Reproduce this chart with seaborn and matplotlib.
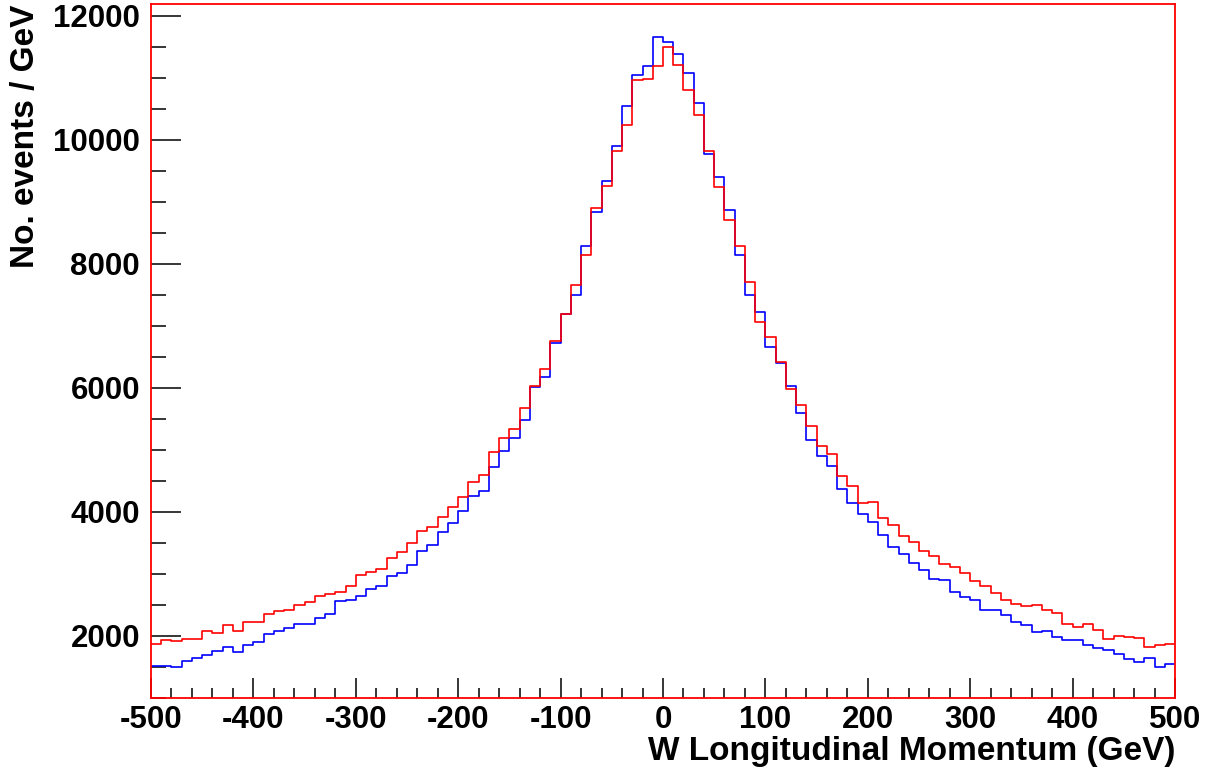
import numpy as np
import pandas as pd
import matplotlib
matplotlib.use("Agg")
import matplotlib.pyplot as plt
import seaborn as sns
from matplotlib.ticker import MultipleLocator

# 100 bins of 10 GeV from -500 to 500
bin_lo, bin_hi, bin_w = -500, 500, 10

# blue histogram (events / GeV)
blue_counts = [
    1516, 1516, 1495, 1602, 1645, 1688, 1763, 1817, 1742, 1849,
    1903, 2032, 2080, 2124, 2188, 2199, 2296, 2350, 2559, 2583,
    2648, 2758, 2812, 2968, 3021, 3151, 3376, 3473, 3677, 3828,
    4021, 4253, 4339, 4721, 4984, 5199, 5484, 6022, 6172, 6720,
    7183, 7500, 8280, 8840, 9339, 9898, 10538, 11038, 11194, 11656,
    11581, 11382, 11076, 10586, 9763, 9398, 8870, 8140, 7500, 7226,
    6656, 6398, 6027, 5600, 5156, 4903, 4740, 4371, 4151, 3973,
    3839, 3634, 3441, 3317, 3183, 3065, 2925, 2898, 2710, 2634,
    2581, 2422, 2425, 2339, 2226, 2177, 2070, 2086, 1989, 1935,
    1941, 1860, 1801, 1774, 1704, 1634, 1581, 1650, 1495, 1548,
]

# red histogram (events / GeV)
red_counts = [
    1876, 1940, 1914, 1957, 1957, 2075, 2054, 2177, 2075, 2231,
    2220, 2360, 2408, 2425, 2500, 2554, 2650, 2677, 2704, 2800,
    2987, 3027, 3081, 3263, 3349, 3495, 3699, 3758, 3925, 4075,
    4247, 4489, 4602, 4968, 5196, 5333, 5677, 6032, 6301, 6753,
    7183, 7656, 8145, 8892, 9258, 9823, 10237, 10968, 10979, 11183,
    11489, 11210, 10795, 10403, 9811, 9240, 8700, 8280, 7699, 7070,
    6817, 6414, 5979, 5720, 5392, 5070, 4930, 4581, 4424, 4140,
    4167, 3898, 3796, 3618, 3511, 3371, 3296, 3161, 3118, 3020,
    2887, 2812, 2688, 2581, 2511, 2478, 2500, 2425, 2376, 2194,
    2151, 2194, 2091, 1957, 2000, 1984, 1968, 1828, 1855, 1871,
]

x_ticks = list(range(-500, 501, 100))
y_ticks = [2000, 4000, 6000, 8000, 10000, 12000]

centers = np.arange(bin_lo + bin_w / 2, bin_hi, bin_w)
df = pd.DataFrame({"pz": centers, "blue": blue_counts, "red": red_counts})

sns.set_style("white")
plt.rcParams["font.family"] = ["Liberation Sans", "DejaVu Sans"]
plt.rcParams["font.weight"] = "bold"
plt.rcParams["axes.unicode_minus"] = False
plt.rcParams["text.color"] = "black"
plt.rcParams["axes.labelcolor"] = "black"

fig = plt.figure(figsize=(12.09, 7.76), dpi=100)
ax = fig.add_axes([151 / 1209, 1 - 698 / 776, 1024 / 1209, 693.7 / 776])

# ROOT-like step outlines
sns.histplot(data=df, x="pz", weights="blue", binwidth=bin_w, binrange=(bin_lo, bin_hi),
             element="step", fill=False, color="#0000ff", linewidth=1.2, ax=ax)
sns.histplot(data=df, x="pz", weights="red", binwidth=bin_w, binrange=(bin_lo, bin_hi),
             element="step", fill=False, color="#ff0000", linewidth=1.2, ax=ax)

ax.set_xlim(-500, 500)
ax.set_ylim(1000, 12184)

ax.set_xticks(x_ticks)
ax.set_yticks(y_ticks)
ax.xaxis.set_minor_locator(MultipleLocator(20))
ax.yaxis.set_minor_locator(MultipleLocator(500))

ax.tick_params(axis="both", which="both", direction="in", colors="black",
               left=True, bottom=True, top=False, right=False,
               labelsize=22.5, width=1.1)
ax.tick_params(axis="y", which="major", length=21.6, pad=8)
ax.tick_params(axis="y", which="minor", length=10.8)
ax.tick_params(axis="x", which="major", length=14.4, pad=5)
ax.tick_params(axis="x", which="minor", length=7.2)
for lab in ax.get_xticklabels() + ax.get_yticklabels():
    lab.set_fontweight("bold")
    lab.set_color("black")

for sp in ax.spines.values():
    sp.set_color("#ff0000")
    sp.set_linewidth(1.3)
    sp.set_visible(True)

ax.set_xlabel("W Longitudinal Momentum (GeV)", fontsize=24, fontweight="bold",
              loc="right", color="black")
ax.set_ylabel("No. events / GeV", fontsize=24, fontweight="bold",
              loc="top", color="black")
ax.xaxis.set_label_coords(1.0, -0.055)
ax.yaxis.set_label_coords(-0.107, 1.0)

fig.savefig("out.png", dpi=100)
